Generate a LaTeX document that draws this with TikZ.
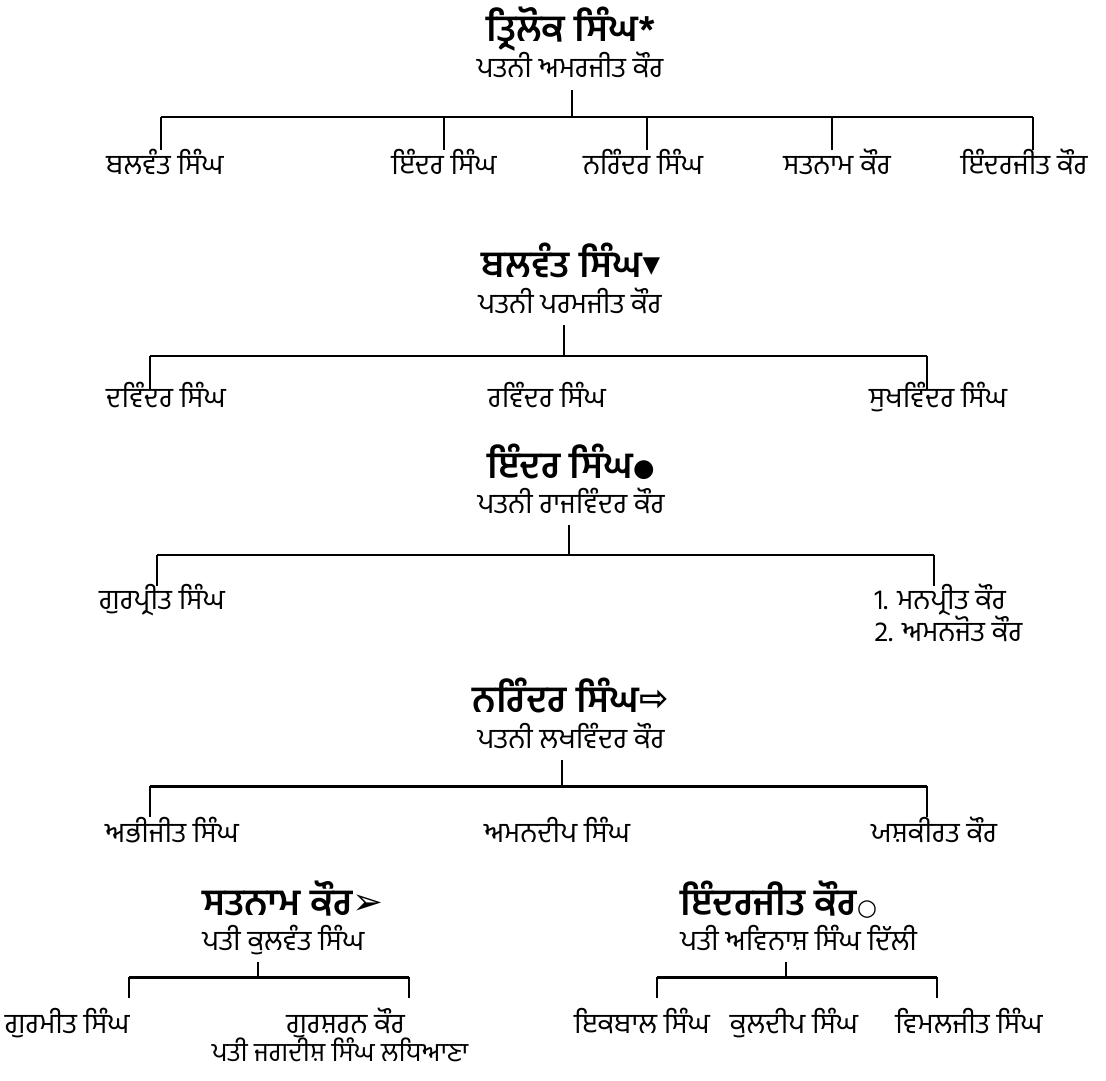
\documentclass[tikz,border=0pt]{standalone}
\usepackage{fontspec}
\newfontfamily\gurfont[Script=Gurmukhi]{Hind Jalandhar}
\newfontfamily\signfont{DejaVu Sans}
\usetikzlibrary{calc}

\begin{document}
\begin{tikzpicture}[
    head/.style={font=\gurfont\bfseries\fontsize{21}{24}\selectfont, inner sep=0pt, anchor=base},
    partner/.style={font=\gurfont\fontsize{16}{18}\selectfont, inner sep=0pt, anchor=base, text depth=0.24cm},
    offspring/.style={font=\gurfont\fontsize{16}{18}\selectfont, inner sep=0pt, anchor=base, text height=#1},
    link/.style={line width=0.85pt},
    crossbar/.style={line width=1.7pt}]

    \useasboundingbox (0,0) rectangle (22.12,-21.60);

    % Trilok Singh
    \node[head] (t1) at (11.42,-0.84) {ਤ੍ਰਿਲੋਕ ਸਿੰਘ*};
    \node[partner] (s1) at (11.40,-1.56) {ਪਤਨੀ ਅਮਰਜੀਤ ਕੌਰ};
    \coordinate (j1) at (11.44,-2.34);
    \node[offspring=0.50cm] (c11) at (3.30,-3.50) {ਬਲਵੰਤ ਸਿੰਘ};
    \node[offspring=0.50cm] (c12) at (8.88,-3.50) {ਇੰਦਰ ਸਿੰਘ};
    \node[offspring=0.50cm] (c13) at (12.86,-3.50) {ਨਰਿੰਦਰ ਸਿੰਘ};
    \node[offspring=0.50cm] (c14) at (16.74,-3.50) {ਸਤਨਾਮ ਕੌਰ};
    \node[offspring=0.50cm] (c15) at (20.48,-3.50) {ਇੰਦਰਜੀਤ ਕੌਰ};
    \coordinate (d11) at ($(c11.north)+(-0.08,0)$);
    \coordinate (d13) at ($(c13.north)+(0.08,0)$);
    \coordinate (d14) at ($(c14.north)+(-0.10,0)$);
    \coordinate (d15) at ($(c15.north)+(0.18,0)$);
    \draw[link] (s1.south -| j1) -- (j1);
    \draw[crossbar] (j1 -| d11) -- (j1 -| d15);
    \draw[link] (j1 -| d11) -- (d11);
    \draw[link] (j1 -| c12.north) -- (c12.north);
    \draw[link] (j1 -| d13) -- (d13);
    \draw[link] (j1 -| d14) -- (d14);
    \draw[link] (j1 -| d15) -- (d15);

    % Balwant Singh
    \node[head] (t2) at (11.42,-5.56) {ਬਲਵੰਤ ਸਿੰਘ\raisebox{0.12cm}{\signfont\fontsize{13}{13}\selectfont ▼}};
    \node[partner] (s2) at (11.40,-6.26) {ਪਤਨੀ ਪਰਮਜੀਤ ਕੌਰ};
    \coordinate (j2) at (11.28,-7.12);
    \node[offspring=0.34cm] (c21) at (3.32,-8.14) {ਦਵਿੰਦਰ ਸਿੰਘ};
    \node[offspring=0.34cm] (c22) at (10.94,-8.14) {ਰਵਿੰਦਰ ਸਿੰਘ};
    \node[offspring=0.34cm] (c23) at (18.76,-8.14) {ਸੁਖਵਿੰਦਰ ਸਿੰਘ};
    \coordinate (d21) at ($(c21.north)+(-0.32,0)$);
    \coordinate (d23) at ($(c23.north)+(-0.22,0)$);
    \draw[link] (s2.south -| j2) -- (j2);
    \draw[crossbar] (j2 -| d21) -- (j2 -| d23);
    \draw[link] (j2 -| d21) -- (d21);
    \draw[link] (j2 -| d23) -- (d23);

    % Inder Singh
    \node[head] (t3) at (11.42,-9.56) {ਇੰਦਰ ਸਿੰਘ\raisebox{0.04cm}{\signfont\fontsize{14}{14}\selectfont ●}};
    \node[partner] (s3) at (11.42,-10.26) {ਪਤਨੀ ਰਾਜਵਿੰਦਰ ਕੌਰ};
    \coordinate (j3) at (11.38,-11.10);
    \node[offspring=0.46cm] (c31) at (3.24,-12.18) {ਗੁਰਪ੍ਰੀਤ ਸਿੰਘ};
    \node[offspring=0.46cm, anchor=base west] (c32) at (17.48,-12.18) {1. ਮਨਪ੍ਰੀਤ ਕੌਰ};
    \node[offspring=0.46cm, anchor=base west] (c33) at (17.48,-12.82) {2. ਅਮਨਜੋਤ ਕੌਰ};
    \coordinate (d31) at ($(c31.north)+(-0.10,0)$);
    \coordinate (d32) at ($(c32.north west)+(1.20,0)$);
    \draw[link] (s3.south -| j3) -- (j3);
    \draw[crossbar] (j3 -| d31) -- (j3 -| d32);
    \draw[link] (j3 -| d31) -- (d31);
    \draw[link] (j3 -| d32) -- (d32);

    % Narinder Singh
    \node[head] (t4) at (11.42,-14.24) {ਨਰਿੰਦਰ ਸਿੰਘ\raisebox{0.04cm}{\signfont\fontsize{20}{20}\selectfont ⇨}};
    \node[partner] (s4) at (11.42,-14.96) {ਪਤਨੀ ਲਖਵਿੰਦਰ ਕੌਰ};
    \coordinate (j4) at (11.24,-15.72);
    \node[offspring=0.50cm] (c41) at (3.44,-16.84) {ਅਭੀਜੀਤ ਸਿੰਘ};
    \node[offspring=0.50cm] (c42) at (11.14,-16.84) {ਅਮਨਦੀਪ ਸਿੰਘ};
    \node[offspring=0.50cm] (c43) at (18.68,-16.84) {ਯਸ਼ਕੀਰਤ ਕੌਰ};
    \coordinate (d41) at ($(c41.north)+(-0.44,0)$);
    \coordinate (d43) at ($(c43.north)+(-0.14,0)$);
    \draw[link] (s4.south -| j4) -- (j4);
    \draw[crossbar] (j4 -| d41) -- (j4 -| d43);
    \draw[link] (j4 -| d41) -- (d41);
    \draw[link] (j4 -| d43) -- (d43);

    % Satnam Kaur
    \node[head, anchor=base west] (t5) at (4.04,-18.30) {ਸਤਨਾਮ ਕੌਰ\raisebox{0.02cm}{\signfont\fontsize{21}{21}\selectfont ➢}};
    \node[partner, anchor=base west] (s5) at (4.04,-19.00) {ਪਤੀ ਕੁਲਵੰਤ ਸਿੰਘ};
    \coordinate (j5) at (5.16,-19.54);
    \node[offspring=0.70cm, anchor=base east] (c51) at (2.60,-20.66) {ਗੁਰਮੀਤ ਸਿੰਘ};
    \node[offspring=0.70cm, anchor=base east] (c52) at (8.10,-20.66) {ਗੁਰਸ਼ਰਨ ਕੌਰ};
    \node[partner, font=\gurfont\fontsize{15}{17}\selectfont, text depth=0.1cm] (c52p) at (6.80,-21.22) {ਪਤੀ ਜਗਦੀਸ਼ ਸਿੰਘ ਲਧਿਆਣਾ};
    \coordinate (d51) at ($(c51.north east)+(-0.02,0)$);
    \coordinate (d52) at ($(c52.north east)+(0.08,0)$);
    \draw[link] (s5.south -| j5) -- (j5);
    \draw[crossbar] (j5 -| d51) -- (j5 -| d52);
    \draw[link] (j5 -| d51) -- (d51);
    \draw[link] (j5 -| d52) -- (d52);

    % Inderjit Kaur
    \node[head, anchor=base west] (t6) at (13.60,-18.30) {ਇੰਦਰਜੀਤ ਕੌਰ{\signfont\bfseries\fontsize{13}{13}\selectfont ○}};
    \node[partner, anchor=base west] (s6) at (13.60,-19.00) {ਪਤੀ ਅਵਿਨਾਸ਼ ਸਿੰਘ ਦਿੱਲੀ};
    \coordinate (j6) at (15.72,-19.54);
    \node[offspring=0.70cm] (c61) at (12.84,-20.66) {ਇਕਬਾਲ ਸਿੰਘ};
    \node[offspring=0.70cm] (c62) at (15.88,-20.66) {ਕੁਲਦੀਪ ਸਿੰਘ};
    \node[offspring=0.70cm] (c63) at (19.38,-20.66) {ਵਿਮਲਜੀਤ ਸਿੰਘ};
    \coordinate (d61) at ($(c61.north)+(0.30,0)$);
    \coordinate (d63) at ($(c63.north)+(-0.64,0)$);
    \draw[link] (s6.south -| j6) -- (j6);
    \draw[crossbar] (j6 -| d61) -- (j6 -| d63);
    \draw[link] (j6 -| d61) -- (d61);
    \draw[link] (j6 -| d63) -- (d63);
\end{tikzpicture}
\end{document}
